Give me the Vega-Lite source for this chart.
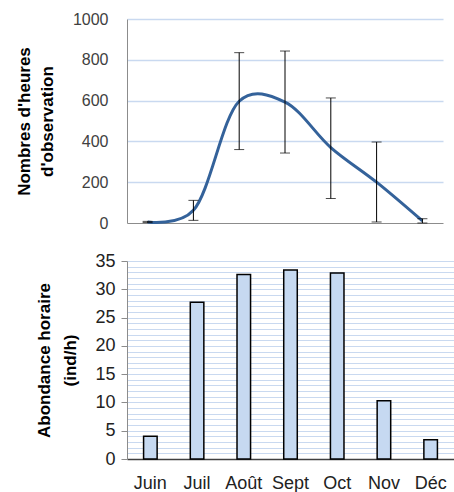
{
  "$schema": "https://vega.github.io/schema/vega-lite/v6.json",
  "padding": {"left": 15, "top": 11, "right": 0, "bottom": 0},
  "background": "white",
  "config": {
    "view": {"stroke": null},
    "font": "Liberation Sans",
    "axis": {"labelFont": "Liberation Sans", "titleFont": "Liberation Sans"}
  },
  "datasets": {
    "heures": [
      {"mois": "Juin", "heures": 5, "bas": 2, "haut": 8},
      {"mois": "Juil", "heures": 62, "bas": 13, "haut": 111},
      {"mois": "Août", "heures": 597, "bas": 360, "haut": 835},
      {"mois": "Sept", "heures": 593, "bas": 343, "haut": 843},
      {"mois": "Oct", "heures": 370, "bas": 120, "haut": 613},
      {"mois": "Nov", "heures": 200, "bas": 5, "haut": 397},
      {"mois": "Déc", "heures": 10, "bas": 0, "haut": 21}
    ],
    "abondance": [
      {"mois": "Juin", "abondance": 4.0},
      {"mois": "Juil", "abondance": 27.7},
      {"mois": "Août", "abondance": 32.6},
      {"mois": "Sept", "abondance": 33.4},
      {"mois": "Oct", "abondance": 32.9},
      {"mois": "Nov", "abondance": 10.3},
      {"mois": "Déc", "abondance": 3.4}
    ]
  },
  "spacing": 21,
  "vconcat": [
    {
      "width": 316,
      "height": 204,
      "data": {"name": "heures"},
      "encoding": {
        "x": {
          "field": "mois",
          "type": "nominal",
          "sort": ["Juin", "Juil", "Août", "Sept", "Oct", "Nov", "Déc"],
          "scale": {"type": "point", "padding": 0.45},
          "axis": {"title": null, "labels": false, "ticks": false, "domainColor": "#8C8C8C", "domainWidth": 1}
        }
      },
      "layer": [
        {
          "mark": {"type": "line", "interpolate": "catmull-rom", "tension": 0.2, "color": "#34629A", "strokeWidth": 3},
          "encoding": {
            "y": {
              "field": "heures",
              "type": "quantitative",
              "title": ["Nombres d'heures", "d'observation"],
              "scale": {"domain": [0, 1000]},
              "axis": {
                "values": [0, 200, 400, 600, 800, 1000],
                "format": "d",
                "grid": true,
                "gridColor": "#C9D9F0",
                "gridWidth": 1.5,
                "gridOpacity": {"condition": {"test": "datum.value === 0", "value": 0}, "value": 1},
                "ticks": false,
                "domainColor": "#8C8C8C",
                "labelFontSize": 16,
                "labelColor": "#404040",
                "labelPadding": 19,
                "titleFontSize": 17,
                "titleFontWeight": "bold",
                "titleColor": "#000000",
                "titleLineHeight": 23,
                "titlePadding": 16
              }
            }
          }
        },
        {
          "mark": {"type": "errorbar", "ticks": {"size": 10}, "color": "black", "thickness": 1},
          "encoding": {
            "y": {"field": "bas", "type": "quantitative", "title": ["Nombres d'heures", "d'observation"]},
            "y2": {"field": "haut"}
          }
        }
      ]
    },
    {
      "width": 327,
      "height": 198,
      "data": {"name": "abondance"},
      "mark": {"type": "bar", "fill": "#C6D9F1", "stroke": "#000000", "strokeWidth": 1.5},
      "encoding": {
        "x": {
          "field": "mois",
          "type": "nominal",
          "sort": ["Juin", "Juil", "Août", "Sept", "Oct", "Nov", "Déc"],
          "scale": {"paddingInner": 0.71, "paddingOuter": 0.355},
          "axis": {
            "title": null,
            "labelAngle": 0,
            "ticks": false,
            "domainColor": "#404040",
            "domainWidth": 1.5,
            "labelFontSize": 18,
            "labelColor": "#222222",
            "labelPadding": 15
          }
        },
        "y": {
          "field": "abondance",
          "type": "quantitative",
          "scale": {"domain": [0, 35]},
          "axis": {
            "title": ["Abondance horaire", "(ind/h)"],
            "values": [0, 1, 2, 3, 4, 5, 6, 7, 8, 9, 10, 11, 12, 13, 14, 15, 16, 17, 18, 19, 20, 21, 22, 23, 24, 25, 26, 27, 28, 29, 30, 31, 32, 33, 34, 35],
            "labelExpr": "datum.value % 5 === 0 ? datum.label : ''",
            "labelOverlap": false,
            "tickColor": {"condition": {"test": "datum.value % 5 === 0", "value": "#8C8C8C"}, "value": "rgba(0,0,0,0)"},
            "tickSize": 6,
            "labelPadding": 6,
            "domainColor": "#8C8C8C",
            "grid": true,
            "gridColor": "#C9D9F0",
            "gridWidth": 1,
            "gridOpacity": {"condition": {"test": "datum.value === 0", "value": 0}, "value": 1},
            "labelFontSize": 18,
            "labelColor": "#222222",
            "titleFontSize": 17,
            "titleFontWeight": "bold",
            "titleColor": "#000000",
            "titleLineHeight": 26,
            "titlePadding": 15
          }
        }
      }
    }
  ]
}
